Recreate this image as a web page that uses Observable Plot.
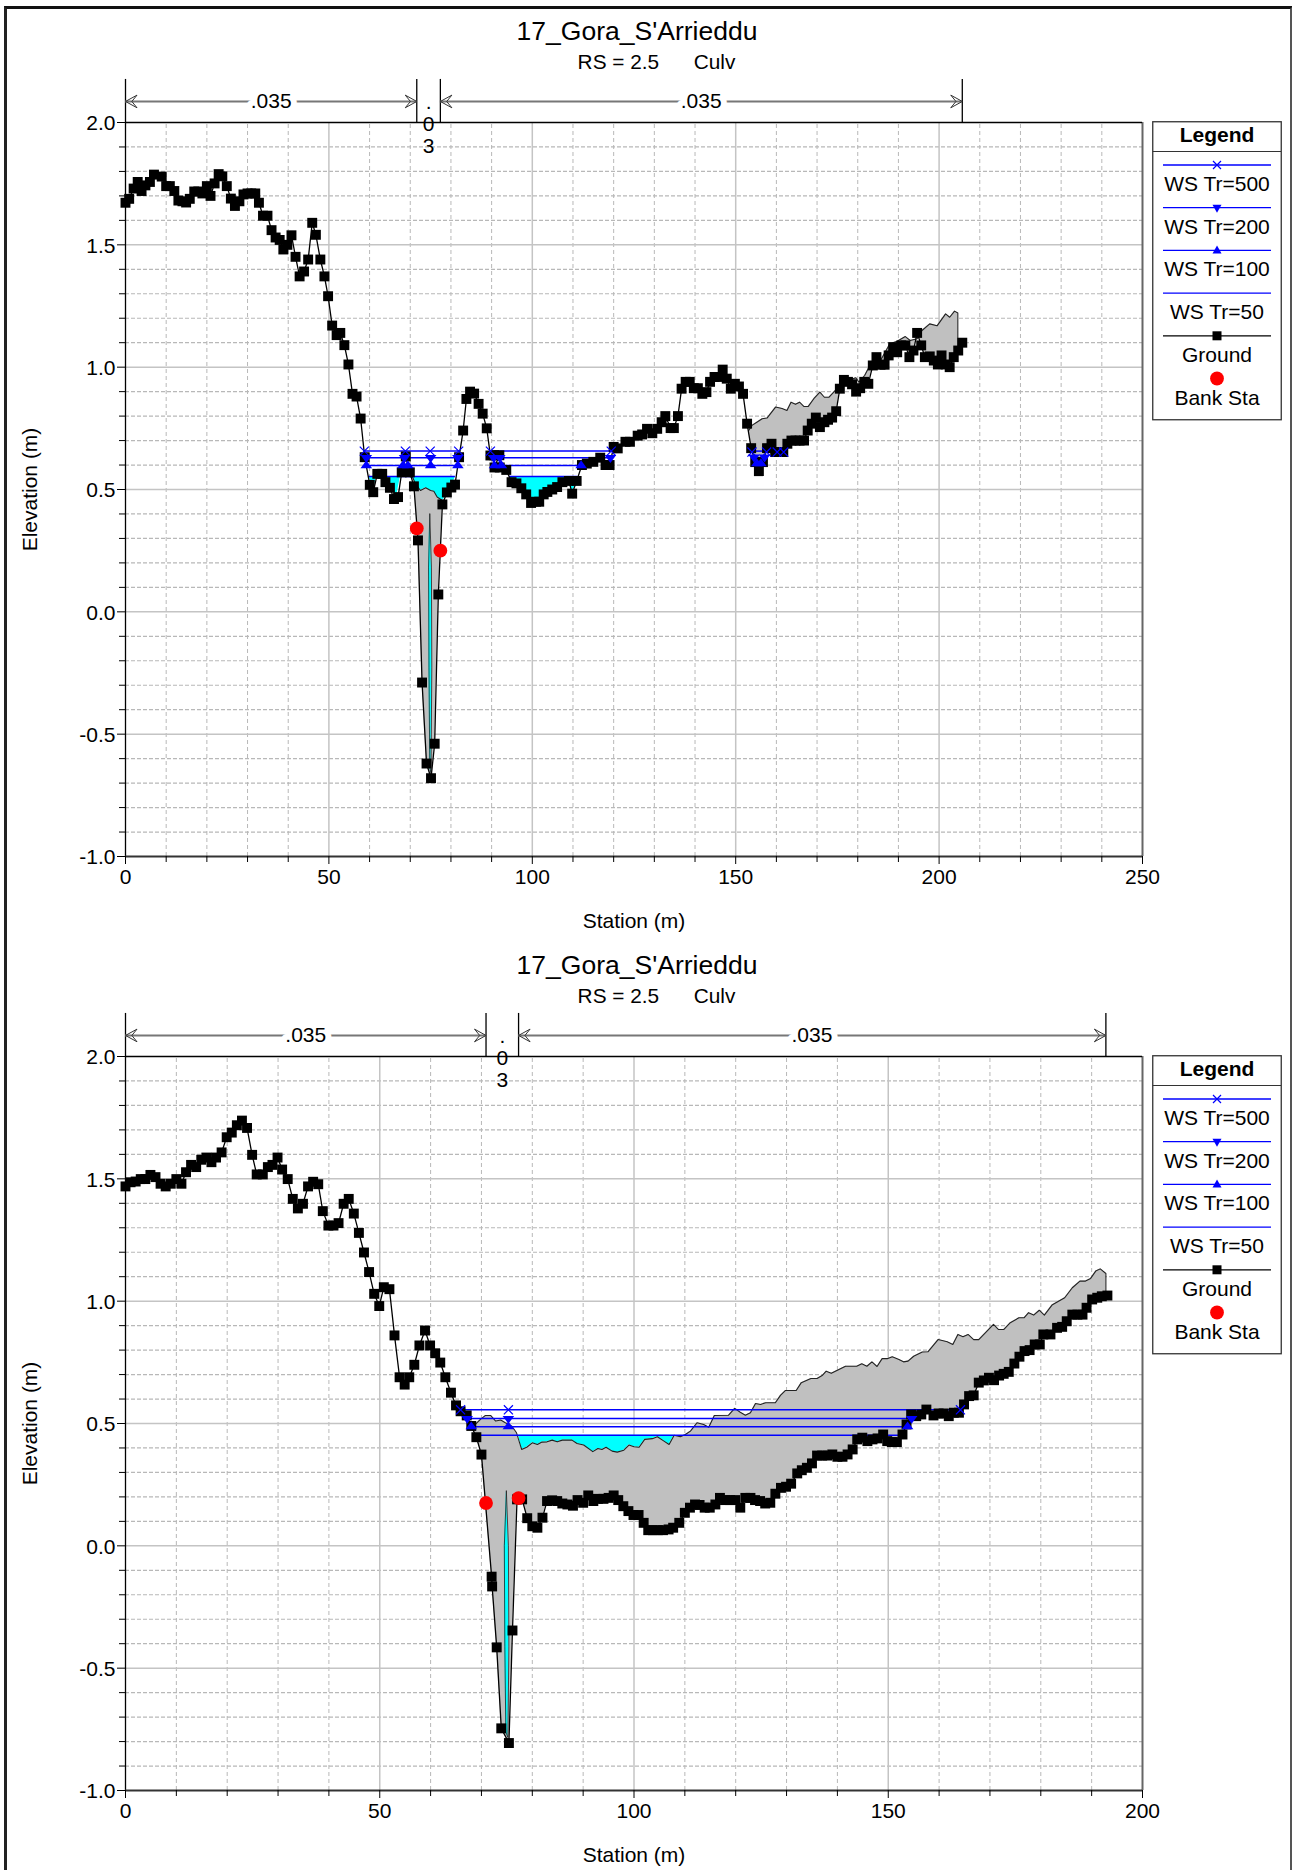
<!DOCTYPE html>
<html>
<head>
<meta charset="utf-8">
<script src="https://cdn.jsdelivr.net/npm/d3@7"></script>
<script src="https://cdn.jsdelivr.net/npm/@observablehq/plot@0.6"></script>
<style>
html,body{margin:0;padding:0;background:#fff;overflow:hidden;width:1292px;height:1870px;}
#page{position:relative;width:1292px;height:1870px;overflow:hidden;font-family:"Liberation Sans",Arial,sans-serif;color:#000;}
#frame{position:absolute;left:4px;top:6px;width:1283px;height:1900px;border-left:3px solid #222;border-top:3px solid #111;border-right:3px solid #555;box-sizing:content-box;}
.plot{position:absolute;left:0;}
.ttl{position:absolute;left:0;width:1274px;text-align:center;white-space:pre;}
.legend{position:absolute;left:1152px;}
</style>
</head>
<body>
<div id="page"><div id="frame"></div></div>
<script>
const sectionTitle = "17_Gora_S'Arrieddu";
const sectionSub = "RS = 2.5      Culv";
const xLabel = "Station (m)";
const yLabel = "Elevation (m)";
const yMajor = [-1, -0.5, 0, 0.5, 1, 1.5, 2];
const yMinor = [-0.9,-0.8,-0.7,-0.6,-0.4,-0.3,-0.2,-0.1,0.1,0.2,0.3,0.4,0.6,0.7,0.8,0.9,1.1,1.2,1.3,1.4,1.6,1.7,1.8,1.9];
const xMajorA = [0,50,100,150,200,250];
const xMinorA = [10,20,30,40,60,70,80,90,110,120,130,140,160,170,180,190,210,220,230,240];
const xMajorB = [0,50,100,150,200];
const xMinorB = [10,20,30,40,60,70,80,90,110,120,130,140,160,170,180,190];

const groundA = [[0,1.672],[0.9,1.688],[2,1.73],[3,1.757],[3.95,1.72],[4.9,1.743],[6,1.757],[7,1.787],[8.9,1.779],[10,1.74],[10.9,1.74],[12,1.72],[13,1.681],[14,1.678],[14.9,1.673],[15.8,1.688],[16.9,1.718],[17.9,1.718],[18.9,1.71],[20,1.74],[20.9,1.70],[21.9,1.751],[22.9,1.789],[23.8,1.78],[24.9,1.74],[25.9,1.689],[26.9,1.659],[28,1.678],[29,1.706],[30,1.71],[30.9,1.71],[31.9,1.71],[32.8,1.672],[33.8,1.619],[34.9,1.619],[35.9,1.56],[36.9,1.53],[37.9,1.52],[38.8,1.481],[39.8,1.5],[40.8,1.539],[41.8,1.451],[42.8,1.371],[43.9,1.391],[44.9,1.44],[45.9,1.59],[46.8,1.541],[47.9,1.44],[48.9,1.371],[49.8,1.29],[50.8,1.17],[51.9,1.131],[52.8,1.14],[53.8,1.09],[54.8,1.011],[55.8,0.891],[56.8,0.88],[57.8,0.79],[58.8,0.632],[60.05,0.519],[60.9,0.489],[61.9,0.564],[63.1,0.564],[63.9,0.53],[65,0.507],[66,0.461],[67,0.469],[67.9,0.57],[68.9,0.635],[69.9,0.57],[70.9,0.513],[71.9,0.292],[72.9,-0.289],[74,-0.62],[75.1,-0.68],[76,-0.539],[76.9,0.071],[77.9,0.439],[79,0.488],[80.1,0.508],[81,0.52],[82,0.632],[83,0.741],[83.8,0.87],[84.7,0.9],[85.7,0.892],[86.8,0.85],[87.8,0.81],[88.8,0.75],[89.7,0.639],[90.6,0.64],[90.7,0.59],[91.9,0.64],[92,0.59],[93.6,0.58],[94.9,0.53],[96.1,0.525],[97.3,0.505],[98.5,0.48],[99.7,0.445],[100.9,0.45],[101.7,0.45],[102.8,0.48],[103.7,0.49],[104.9,0.5],[106.1,0.51],[107.4,0.53],[109,0.535],[109.8,0.483],[110.9,0.535],[112.2,0.6],[113.4,0.606],[115,0.613],[116.7,0.63],[118,0.6],[119,0.6],[120,0.674],[121,0.668],[122.9,0.695],[124,0.695],[125.9,0.72],[127,0.725],[128.2,0.748],[129.5,0.73],[130.7,0.748],[131.8,0.775],[132.7,0.8],[134,0.751],[134.8,0.751],[135.8,0.8],[136.7,0.912],[137.7,0.94],[138.7,0.94],[139.7,0.914],[140.7,0.914],[141.8,0.891],[142.8,0.898],[143.7,0.94],[144.8,0.96],[145.8,0.96],[146.8,0.99],[147.8,0.953],[148.8,0.912],[149.8,0.932],[150.8,0.921],[151.8,0.891],[152.8,0.769],[153.8,0.669],[154.8,0.612],[155.7,0.575],[156.7,0.612],[157.7,0.669],[158.8,0.687],[159.7,0.653],[160.7,0.653],[161.7,0.653],[162.7,0.687],[163.7,0.7],[164.7,0.7],[165.7,0.7],[166.8,0.7],[167.7,0.741],[168.7,0.769],[169.7,0.794],[170.7,0.755],[171.8,0.775],[172.7,0.785],[173.7,0.794],[174.7,0.82],[175.6,0.912],[176.6,0.948],[177.6,0.94],[178.6,0.93],[179.6,0.9],[180.6,0.914],[181.6,0.94],[182.6,0.932],[183.7,1.007],[184.6,1.041],[185.6,1.01],[186.6,1.01],[187.6,1.048],[188.7,1.082],[189.7,1.061],[190.7,1.089],[191.7,1.089],[192.7,1.041],[193.7,1.068],[194.6,1.14],[195.6,1.089],[196.5,1.041],[197.7,1.044],[198.7,1.027],[199.7,1.011],[200.6,1.048],[201.6,1.011],[202.6,1],[203.6,1.041],[204.7,1.068],[205.7,1.1]];

const lidAValley = [[70.5,0.553],[71.3,0.523],[72.5,0.496],[73.8,0.507],[75,0.496],[75.8,0.493],[76.6,0.469],[77.9,0.455]];
const lidARight = [[153.2,0.741],[154,0.762],[155.2,0.775],[156.5,0.789],[157.7,0.792],[159.8,0.837],[161.4,0.831],[162.6,0.823],[163.6,0.857],[164.7,0.848],[165.7,0.857],[166.8,0.839],[167.8,0.839],[169.2,0.871],[170.7,0.898],[171.8,0.877],[172.9,0.877],[174.5,0.905],[175.8,0.918],[177.8,0.946],[179.5,0.957],[180.3,0.939],[181.7,0.966],[183.2,1.014],[185.6,1.027],[187.9,1.096],[189.7,1.106],[191.7,1.125],[192.9,1.109],[194.6,1.116],[195.8,1.15],[197.7,1.177],[199.5,1.169],[201.6,1.218],[202.6,1.204],[203.8,1.229],[204.6,1.221],[204.6,1.068]];
const lensA = [[74.8,0.40],[74.5,0.183],[74.6,-0.226],[74.8,-0.635],[75.1,-0.66],[75.3,-0.226],[75.2,0.183],[74.8,0.40]];
const poolsA = [
  [[59.8,0.553],[61.7,0.553],[61,0.507]],
  [[63.5,0.553],[67.6,0.553],[66.6,0.469],[65.1,0.522]],
  [[70.5,0.553],[71.3,0.523],[72.5,0.496],[73.8,0.507],[75,0.496],[75.8,0.493],[76.6,0.469],[77.9,0.455],[79,0.476],[80.1,0.508],[81.1,0.553]],
  [[94.4,0.553],[111.2,0.553],[110.9,0.535],[109.8,0.483],[109,0.535],[107.4,0.53],[106.1,0.51],[104.9,0.5],[103.7,0.49],[102.8,0.48],[101.7,0.45],[100.9,0.45],[99.7,0.445],[98.5,0.48],[97.3,0.505],[96.1,0.525],[94.9,0.53]]
];
const levelsA = [
  {y:0.657,x1:58.8,x2:82.2},{y:0.657,x1:89.7,x2:119.6},{y:0.657,x1:154,x2:157.6},{y:0.657,x1:160.2,x2:161.8},
  {y:0.63,x1:59.2,x2:81.7},{y:0.63,x1:90.4,x2:119.2},{y:0.63,x1:154.5,x2:157.1},
  {y:0.598,x1:59.2,x2:81.7},{y:0.598,x1:90.7,x2:112},{y:0.606,x1:155.2,x2:156.2},
  {y:0.553,x1:59.8,x2:81.1},{y:0.553,x1:94.4,x2:111.2}
];
const marks500A = [[58.7,0.657],[68.8,0.657],[74.9,0.657],[81.9,0.657],[89.7,0.657],[119.4,0.657],[154,0.653],[157.6,0.653],[160.2,0.653],[161.8,0.653]];
const marks200A = [[59.2,0.63],[68.6,0.63],[75,0.63],[81.7,0.63],[90.5,0.63],[92,0.63],[119.2,0.63],[154.5,0.632],[157.1,0.632]];
const marks100A = [[59.2,0.598],[68.2,0.598],[69.4,0.598],[75,0.598],[81.7,0.598],[90.7,0.598],[92.4,0.598],[112,0.598],[155.2,0.606],[156.2,0.606]];
const banksA = [[71.6,0.341],[77.4,0.25]];
const nStationsA = [0,71.6,77.4,205.7];
const nTextA = [[35.8,".035"],[141.5,".035"]];

const groundB = [[0,1.469],[1,1.486],[2,1.489],[3,1.499],[3.9,1.499],[4.9,1.516],[5.9,1.507],[6.9,1.48],[7.9,1.469],[8.9,1.48],[10,1.499],[11,1.48],[11.9,1.527],[12.9,1.557],[13.9,1.548],[14.9,1.578],[15.9,1.587],[16.9,1.568],[17.8,1.587],[18.9,1.608],[19.9,1.67],[20.9,1.689],[21.9,1.719],[22.9,1.738],[23.9,1.708],[24.9,1.598],[25.8,1.518],[27,1.518],[28,1.548],[28.9,1.557],[29.9,1.587],[30.8,1.538],[31.9,1.499],[32.9,1.418],[33.9,1.379],[34.9,1.398],[35.9,1.469],[36.9,1.488],[37.9,1.478],[38.8,1.368],[39.9,1.309],[40.9,1.309],[41.9,1.319],[42.9,1.398],[43.9,1.418],[44.9,1.358],[45.9,1.279],[46.9,1.199],[47.9,1.119],[48.9,1.03],[49.9,0.98],[50.8,1.057],[51.9,1.049],[52.9,0.86],[53.9,0.689],[54.9,0.659],[55.8,0.689],[56.8,0.74],[57.8,0.819],[58.9,0.88],[59.9,0.819],[60.9,0.787],[61.9,0.749],[62.9,0.689],[64,0.626],[65,0.574],[65.9,0.55],[67.1,0.533],[68,0.49],[69,0.444],[70,0.373],[72,-0.126],[72.1,-0.166],[73,-0.415],[73.9,-0.746],[75.4,-0.806],[76.1,-0.346],[77,0.19],[78,0.19],[79,0.113],[80,0.08],[81,0.074],[82,0.115],[82.9,0.183],[83.9,0.186],[84.9,0.183],[85.9,0.173],[86.9,0.169],[88,0.164],[88.9,0.187],[90,0.176],[91,0.206],[92,0.183],[92.9,0.192],[94,0.192],[95,0.196],[96,0.206],[96.9,0.187],[97.9,0.162],[98.9,0.142],[99.9,0.126],[100.9,0.126],[101.9,0.094],[102.8,0.064],[103.7,0.064],[104.7,0.064],[105.7,0.064],[106.8,0.067],[107.7,0.074],[108.9,0.094],[110,0.135],[111,0.156],[112,0.169],[112.9,0.167],[113.9,0.156],[114.9,0.156],[116,0.169],[116.9,0.196],[117.9,0.187],[118.9,0.187],[119.9,0.187],[120.9,0.156],[121.9,0.196],[122.9,0.196],[123.8,0.187],[124.8,0.183],[125.8,0.173],[126.8,0.176],[127.8,0.213],[128.9,0.237],[129.9,0.2415],[130.9,0.254],[132.1,0.296],[133,0.309],[134,0.319],[135,0.337],[136,0.369],[137,0.369],[138,0.369],[139,0.3735],[140,0.364],[141,0.364],[142,0.3735],[143,0.394],[143.9,0.435],[144.9,0.442],[145.9,0.428],[146.9,0.435],[147.9,0.439],[149,0.455],[149.8,0.428],[150.7,0.424],[151.7,0.424],[152.8,0.455],[153.6,0.496],[154.5,0.537],[155.5,0.53],[156.5,0.537],[157.5,0.557],[158.9,0.533],[159.9,0.541],[160.9,0.541],[161.9,0.53],[162.9,0.544],[163.9,0.544],[164.9,0.578],[165.9,0.612],[166.8,0.615],[167.8,0.667],[168.8,0.676],[169.8,0.687],[170.8,0.677],[171.8,0.696],[172.7,0.703],[173.7,0.711],[174.8,0.745],[175.8,0.773],[176.8,0.796],[177.8,0.8],[178.8,0.823],[179.8,0.823],[180.5,0.864],[181.9,0.864],[183.2,0.891],[184.2,0.895],[185.1,0.918],[186.2,0.945],[187.2,0.945],[188.2,0.945],[189,0.973],[190.1,1.007],[191.1,1.014],[192,1.02],[193.1,1.023]];

const lidB = [[68,0.489],[68.8,0.496],[69.8,0.517],[70.8,0.533],[71.8,0.533],[72.8,0.51],[73.8,0.514],[74.7,0.503],[76,0.489],[76.9,0.462],[77.9,0.394],[78.9,0.403],[80,0.421],[81,0.414],[81.9,0.424],[82.9,0.425],[83.9,0.432],[84.9,0.425],[85.9,0.432],[87.8,0.432],[88.8,0.418],[90.1,0.412],[91.9,0.385],[92.9,0.398],[93.7,0.394],[94.5,0.403],[95.7,0.387],[96.7,0.383],[98,0.391],[99,0.412],[100,0.405],[101,0.403],[102.1,0.435],[103.6,0.438],[104.6,0.446],[105.9,0.428],[106.9,0.414],[107.9,0.452],[109.1,0.446],[110.1,0.455],[111.1,0.469],[112.4,0.503],[113.7,0.496],[114.7,0.485],[115.8,0.533],[118.6,0.534],[119.8,0.562],[120.9,0.546],[121.9,0.534],[122.9,0.544],[123.9,0.582],[124.9,0.578],[125.9,0.585],[127.8,0.585],[128.8,0.615],[129.8,0.635],[131.9,0.635],[132.9,0.667],[134.8,0.684],[136,0.684],[137,0.696],[137.8,0.714],[138.8,0.705],[141.6,0.734],[143.8,0.734],[144.8,0.744],[145.8,0.734],[146.8,0.752],[147.8,0.733],[148.8,0.765],[149.8,0.765],[150.8,0.773],[152.1,0.762],[153,0.752],[153.9,0.755],[155,0.775],[156.7,0.792],[157.8,0.793],[159.8,0.843],[161.6,0.834],[162.7,0.823],[163.7,0.864],[164.7,0.855],[165.7,0.864],[166.8,0.843],[167.8,0.843],[170.7,0.905],[171.7,0.884],[172.7,0.884],[174,0.912],[175.7,0.932],[176.7,0.932],[177.6,0.953],[178.6,0.943],[179.7,0.963],[180.7,0.943],[182.2,0.984],[184.7,1.014],[186.2,1.055],[187.7,1.082],[188.8,1.082],[189.8,1.093],[190.8,1.123],[191.7,1.132],[192.8,1.113],[192.8,1.041]];
const lensB = [[74.9,0.224],[74.5,0],[74.6,-0.41],[74.8,-0.762],[75.2,-0.783],[75.4,-0.41],[75.3,0],[74.9,0.224]];
const poolsB = [
  [[77.3,0.452],[107.9,0.452],[106.9,0.414],[105.9,0.428],[104.6,0.446],[103.6,0.438],[102.1,0.435],[101,0.403],[100,0.405],[99,0.412],[98,0.391],[96.7,0.383],[95.7,0.387],[94.5,0.403],[93.7,0.394],[92.9,0.398],[91.9,0.385],[90.1,0.412],[88.8,0.418],[87.8,0.432],[85.9,0.432],[84.9,0.425],[83.9,0.432],[82.9,0.425],[81.9,0.424],[81,0.414],[80,0.421],[78.9,0.403],[77.9,0.394]]
];
const levelsB = [
  {y:0.556,x1:65.9,x2:164.2},{y:0.52,x1:67.2,x2:154.6},{y:0.487,x1:68,x2:153.8},{y:0.452,x1:69,x2:153.1}
];
const marks500B = [[65.9,0.556],[75.3,0.556],[164.2,0.556]];
const marks200B = [[67.2,0.52],[75.3,0.52],[154.6,0.52]];
const marks100B = [[68,0.487],[75.3,0.487],[153.8,0.487]];
const banksB = [[70.9,0.175],[77.3,0.195]];
const nStationsB = [0,70.9,77.3,192.8];
const nTextB = [[35.45,".035"],[135,".035"]];

const legendItems = ["WS Tr=500","WS Tr=200","WS Tr=100","WS Tr=50","Ground","Bank Sta"];

const BLUE = "#0000ff";
const triDown = {draw(c,s){const w=Math.sqrt(s)*0.78,h=w*0.9;c.moveTo(-w,-h*0.5);c.lineTo(w,-h*0.5);c.lineTo(0,h*1.0);c.closePath();}};
const triUp = {draw(c,s){const w=Math.sqrt(s)*0.78,h=w*0.9;c.moveTo(-w,h*0.5);c.lineTo(w,h*0.5);c.lineTo(0,-h*1.0);c.closePath();}};
const headRight = {draw(c,s){const a=Math.sqrt(s);c.moveTo(-a,-a*0.55);c.lineTo(0,0);c.lineTo(-a,a*0.55);c.moveTo(-a,-a*0.55);c.lineTo(-a*0.55,0);c.lineTo(-a,a*0.55);}};
const headLeft = {draw(c,s){const a=Math.sqrt(s);c.moveTo(a,-a*0.55);c.lineTo(0,0);c.lineTo(a,a*0.55);c.moveTo(a,-a*0.55);c.lineTo(a*0.55,0);c.lineTo(a,a*0.55);}};
const px = d=>d[0], py = d=>d[1];

function polyRows(polys){
  const rows=[];
  polys.forEach((p,k)=>p.forEach(q=>rows.push({id:k,x1:q[0],y1:q[1],x2:p[0][0],y2:p[0][1]})));
  return rows;
}

function section(c){
  const ns = c.nStations;
  const nTop = 2.176, nArrow = 2.086;
  return Plot.plot({
    width:1292, height:c.height,
    marginTop:122, marginLeft:125, marginRight:150, marginBottom:c.height-734-122,
    style:{fontFamily:'"Liberation Sans",Arial,sans-serif',fontSize:"21px",background:"transparent",overflow:"visible",color:"#000"},
    x:{domain:[0,c.xMax]},
    y:{domain:[-1,2]},
    marks:[
      Plot.ruleX(c.xMinor,{stroke:"#b8b8b8",strokeWidth:1,strokeDasharray:"4,3",y1:-1,y2:2}),
      Plot.ruleY(yMinor,{stroke:"#b8b8b8",strokeWidth:1.2,strokeDasharray:"4,2",x1:0,x2:c.xMax}),
      Plot.ruleX(c.xMajor.slice(1,-1),{stroke:"#c4c4c4",strokeWidth:1.5,y1:-1,y2:2}),
      Plot.ruleY(yMajor.slice(1,-1),{stroke:"#c4c4c4",strokeWidth:1.5,x1:0,x2:c.xMax}),
      Plot.area(polyRows(c.gray),{x1:"x1",y1:"y1",x2:"x2",y2:"y2",z:"id",fill:"#c0c0c0"}),
      Plot.area(polyRows(c.pools.concat([c.lens])),{x1:"x1",y1:"y1",x2:"x2",y2:"y2",z:"id",fill:"#00ffff"}),
      ...c.lids.map(l=>Plot.line(l,{x:px,y:py,stroke:"#222",strokeWidth:1.1})),
      Plot.line(c.lens,{x:px,y:py,stroke:"#222",strokeWidth:0.8}),
      Plot.ruleX([c.xMax],{stroke:"#666",strokeWidth:2,y1:-1,y2:2}),
      Plot.ruleX([0],{stroke:"#000",strokeWidth:1.3,y1:-1,y2:2}),
      Plot.ruleY([2],{stroke:"#000",strokeWidth:1.3,x1:0,x2:c.xMax}),
      Plot.ruleY([-1],{stroke:"#333",strokeWidth:2.2,x1:0,x2:c.xMax}),
      Plot.axisX({ticks:c.xMinor,tickSize:6,text:null,label:null}),
      Plot.axisX({ticks:c.xMajor,tickSize:8,tickPadding:5,tickFormat:d=>String(d),label:xLabel,labelAnchor:"center",labelArrow:"none",labelOffset:71}),
      Plot.axisY({ticks:yMinor,tickSize:6,text:null,label:null}),
      Plot.axisY({ticks:yMajor,tickSize:8,text:null,label:null}),
      Plot.axisY({ticks:yMajor,tickSize:0,tickPadding:10,dy:1,tickFormat:d=>d.toFixed(1),label:null}),
      Plot.axisY({ticks:[],tickSize:0,label:yLabel,labelAnchor:"center",labelArrow:"none",labelOffset:103.5}),
      Plot.ruleY(c.levels,{y:"y",x1:"x1",x2:"x2",stroke:BLUE,strokeWidth:1.5}),
      Plot.line(c.ground,{x:px,y:py,stroke:"#000",strokeWidth:1.3}),
      Plot.dot(c.ground,{x:px,y:py,symbol:"square",r:5.6,fill:"#000"}),
      Plot.dot(c.m100,{x:px,y:py,symbol:triUp,r:4.2,fill:BLUE}),
      Plot.dot(c.m200,{x:px,y:py,symbol:triDown,r:4.2,fill:BLUE}),
      Plot.dot(c.m500,{x:px,y:py,symbol:"times",r:4.2,stroke:BLUE,strokeWidth:1.2}),
      Plot.dot(c.banks,{x:px,y:py,r:6.9,fill:"#ff0000"}),
      Plot.ruleX(ns,{y1:2,y2:nTop,stroke:"#000",strokeWidth:1.3}),
      Plot.ruleY([{a:ns[0],b:ns[1]},{a:ns[2],b:ns[3]}],{y:nArrow,x1:"a",x2:"b",stroke:"#777",strokeWidth:2}),
      Plot.dot([ns[1],ns[3]],{x:d=>d,y:nArrow,symbol:headRight,r:6.5,stroke:"#333",fill:"none",strokeWidth:1}),
      Plot.dot([ns[0],ns[2]],{x:d=>d,y:nArrow,symbol:headLeft,r:6.5,stroke:"#333",fill:"none",strokeWidth:1}),
      Plot.text(c.nText,{x:px,y:nArrow,text:py,fontSize:21,fill:"#000",stroke:"#fff",strokeWidth:12}),
      Plot.text([".\n0\n3"],{x:(ns[1]+ns[2])/2,y:1.995,fontSize:21,lineHeight:1.05,fill:"#000"})
    ]
  });
}

const configs = [
 {top:0,height:934,xMax:250,xMajor:xMajorA,xMinor:xMinorA,ground:groundA,
  gray:[lidAValley.concat(groundA.filter(d=>d[0]>=70.9&&d[0]<=77.9).reverse()),
        lidARight.concat(groundA.filter(d=>d[0]>=153.2&&d[0]<=204.7).reverse())],
  pools:poolsA,lens:lensA,lids:[lidAValley,lidARight],levels:levelsA,m500:marks500A,m200:marks200A,m100:marks100A,banks:banksA,nStations:nStationsA,nText:nTextA},
 {top:934,height:936,xMax:200,xMajor:xMajorB,xMinor:xMinorB,ground:groundB,
  gray:[lidB.concat(groundB.filter(d=>d[0]>=68&&d[0]<=192.8).reverse())],
  pools:poolsB,lens:lensB,lids:[lidB],levels:levelsB,m500:marks500B,m200:marks200B,m100:marks100B,banks:banksB,nStations:nStationsB,nText:nTextB}
];

function legend(){
  const W=129,H=299,cx=65;
  const svg=d3.create("svg").attr("width",W+2).attr("height",H+2).attr("viewBox",`0 0 ${W+2} ${H+2}`)
    .style("font-family",'"Liberation Sans",Arial,sans-serif').style("font-size","21px").style("overflow","visible");
  svg.append("rect").attr("x",0.75).attr("y",0.75).attr("width",W-0.5).attr("height",H-1).attr("fill","#fff").attr("stroke","#333").attr("stroke-width",1.3);
  svg.append("line").attr("x1",0.75).attr("x2",W).attr("y1",30.5).attr("y2",30.5).attr("stroke","#333").attr("stroke-width",1.2);
  svg.append("text").attr("x",cx).attr("y",21).attr("text-anchor","middle").attr("font-weight","bold").text("Legend");
  legendItems.forEach((t,i)=>{
    const ly=44+i*42.7, ty=ly+26;
    svg.append("text").attr("x",cx).attr("y",ty).attr("text-anchor","middle").text(t);
    if(i<5){
      svg.append("line").attr("x1",11).attr("x2",119).attr("y1",ly).attr("y2",ly).attr("stroke",i<4?BLUE:"#000").attr("stroke-width",1.3);
    }
    if(i===0) svg.append("path").attr("d",`M${cx-4},${ly-4}L${cx+4},${ly+4}M${cx-4},${ly+4}L${cx+4},${ly-4}`).attr("stroke",BLUE).attr("fill","none").attr("stroke-width",1.2);
    if(i===1) svg.append("path").attr("d",`M${cx-4.5},${ly-3}L${cx+4.5},${ly-3}L${cx},${ly+5}Z`).attr("fill",BLUE);
    if(i===2) svg.append("path").attr("d",`M${cx-4.5},${ly+3}L${cx+4.5},${ly+3}L${cx},${ly-5}Z`).attr("fill",BLUE);
    if(i===4) svg.append("rect").attr("x",cx-4.5).attr("y",ly-4.5).attr("width",9).attr("height",9).attr("fill","#000");
    if(i===5) svg.append("circle").attr("cx",cx).attr("cy",ly).attr("r",6.9).attr("fill","#ff0000");
  });
  return svg.node();
}

const page=document.getElementById("page");
configs.forEach(c=>{
  const holder=document.createElement("div");
  holder.className="plot"; holder.style.top=c.top+"px";
  holder.appendChild(section(c));
  page.appendChild(holder);
  const t=document.createElement("div");
  t.className="ttl"; t.style.top=(c.top+16)+"px"; t.style.fontSize="26.5px"; t.textContent=sectionTitle;
  page.appendChild(t);
  const s=document.createElement("div");
  s.className="ttl"; s.style.top=(c.top+50)+"px"; s.style.fontSize="20.8px"; s.style.width="1313px"; s.textContent=sectionSub;
  page.appendChild(s);
  const l=document.createElement("div");
  l.className="legend"; l.style.top=(c.top+121)+"px"; l.appendChild(legend());
  page.appendChild(l);
});
</script>
</body>
</html>
